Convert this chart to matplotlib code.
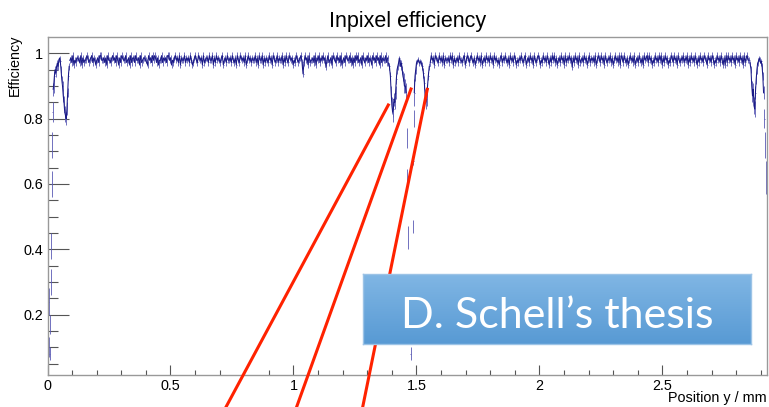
import numpy as np
import matplotlib.pyplot as plt
from matplotlib.lines import Line2D

plt.rcParams['font.family'] = ['Liberation Sans', 'DejaVu Sans']

# left edge of the pixel and the first dip
edge_x = [0.003, 0.005, 0.007, 0.009, 0.011, 0.013, 0.015, 0.017, 0.019, 0.021,
          0.023, 0.025, 0.028, 0.031, 0.034, 0.037, 0.040, 0.043, 0.046, 0.049,
          0.052, 0.055, 0.058, 0.061, 0.064, 0.067, 0.070, 0.073, 0.076, 0.079,
          0.082, 0.085, 0.088]
edge_eff = [0.35, 0.24, 0.10, 0.08, 0.17, 0.30, 0.41, 0.60, 0.72, 0.82,
            0.89, 0.90, 0.93, 0.95, 0.94, 0.96, 0.97, 0.96, 0.98, 0.985,
            0.975, 0.95, 0.92, 0.90, 0.87, 0.85, 0.82, 0.81, 0.80, 0.83,
            0.88, 0.93, 0.96]
edge_err = [0.04, 0.04, 0.03, 0.02, 0.03, 0.04, 0.04, 0.04, 0.04, 0.03,
            0.02, 0.02, 0.015, 0.012, 0.012, 0.01, 0.01, 0.01, 0.008, 0.008,
            0.008, 0.01, 0.012, 0.015, 0.02, 0.02, 0.02, 0.02, 0.02, 0.02,
            0.015, 0.012, 0.01]

# gap between the two pixel halves
mid_x = [1.386, 1.390, 1.394, 1.397, 1.400, 1.403, 1.406, 1.409, 1.412, 1.415,
         1.418, 1.421, 1.424, 1.427, 1.430, 1.433, 1.436, 1.439, 1.442, 1.445,
         1.448, 1.451, 1.455, 1.458, 1.461, 1.463, 1.465, 1.476, 1.485, 1.487,
         1.489, 1.491, 1.494, 1.497, 1.500, 1.504, 1.508, 1.512, 1.516, 1.520,
         1.524, 1.528, 1.532, 1.535, 1.538, 1.541, 1.544, 1.548, 1.552]
mid_eff = [0.97, 0.96, 0.93, 0.88, 0.84, 0.82, 0.83, 0.86, 0.85, 0.88,
           0.92, 0.95, 0.96, 0.97, 0.985, 0.975, 0.96, 0.97, 0.95, 0.93,
           0.92, 0.90, 0.90, 0.88, 0.74, 0.615, 0.435, 0.08, 0.47, 0.67,
           0.80, 0.88, 0.93, 0.95, 0.97, 0.975, 0.98, 0.97, 0.975, 0.97,
           0.96, 0.94, 0.91, 0.87, 0.85, 0.86, 0.89, 0.93, 0.96]
mid_err = [0.008, 0.01, 0.012, 0.02, 0.025, 0.03, 0.025, 0.02, 0.02, 0.02,
           0.015, 0.012, 0.01, 0.01, 0.008, 0.008, 0.01, 0.01, 0.012, 0.015,
           0.02, 0.02, 0.02, 0.03, 0.03, 0.03, 0.035, 0.02, 0.02, 0.012,
           0.025, 0.04, 0.015, 0.012, 0.01, 0.008, 0.008, 0.008, 0.008, 0.01,
           0.012, 0.015, 0.02, 0.02, 0.02, 0.02, 0.015, 0.012, 0.01]

# right edge
right_x = [2.856, 2.860, 2.863, 2.866, 2.869, 2.872, 2.875, 2.878, 2.881, 2.884,
           2.887, 2.890, 2.893, 2.896, 2.899, 2.902, 2.905, 2.908, 2.911, 2.914,
           2.917, 2.921]
right_eff = [0.97, 0.95, 0.90, 0.87, 0.89, 0.84, 0.83, 0.88, 0.92, 0.95,
             0.97, 0.975, 0.985, 0.98, 0.97, 0.975, 0.96, 0.93, 0.88, 0.80,
             0.72, 0.62]
right_err = [0.008, 0.01, 0.015, 0.02, 0.02, 0.025, 0.025, 0.02, 0.015, 0.012,
             0.01, 0.008, 0.008, 0.008, 0.008, 0.008, 0.01, 0.012, 0.02, 0.03,
             0.04, 0.05]

# plateaus, one digit per bin: eff = 0.93 + 0.007 * digit
plateau1_range = (0.091, 1.383)
plateau1 = ("7869576887695867798678968757869977868597768978697586987796785968"
            "8697785967887659786979868577968786997857689786958779687869756897"
            "6987859678869779586978768957869778697685976987869579786877968597"
            "7958687697859867968779586976987857698678961697859677869587968797"
            "8479678598769786957869877968586979678597687968759786978596877968")
plateau2_range = (1.556, 2.852)
plateau2 = ("6978598769786958778697958678697768957986897685797869578697869785"
            "9786758968797685978698576879768957869785976898576978697586979685"
            "7869785968797848697859678697857968786957986978597687968579786959"
            "8697685797869578697685978969785769786979586978576986978597687968"
            "7958697869758697869875978698576978697585969786978597869785968977")
plateau_err = 0.01

xticks = [0, 0.5, 1, 1.5, 2, 2.5]
xtick_labels = ['0', '0.5', '1', '1.5', '2', '2.5']
yticks = [0.2, 0.4, 0.6, 0.8, 1.0]
ytick_labels = ['0.2', '0.4', '0.6', '0.8', '1']

W, H = 769, 407
fig = plt.figure(figsize=(W / 100, H / 100), dpi=100)
ax = fig.add_axes([47.5 / W, 1 - 375 / H, (767 - 47.5) / W, (375 - 37) / H])

def digits(s):
    return 0.93 + 0.007 * np.array([int(c) for c in s])

p1 = digits(plateau1)
p2 = digits(plateau2)
px1 = np.linspace(*plateau1_range, len(p1))
px2 = np.linspace(*plateau2_range, len(p2))

navy = '#1a1a86'
light = '#5a5ab4'
for xs, ys, es, hw in [(edge_x, edge_eff, edge_err, 0.001),
                       (px1, p1, plateau_err, 0.002),
                       (mid_x, mid_eff, mid_err, 0.001),
                       (px2, p2, plateau_err, 0.002),
                       (right_x, right_eff, right_err, 0.001)]:
    ax.errorbar(xs, ys, xerr=hw, yerr=es, fmt='none', ecolor=light,
                elinewidth=0.6, capsize=0)

# dark core line where the bins are dense (sparse low bins stay isolated)
segments = [(edge_x[10:], edge_eff[10:]), (px1, p1),
            (mid_x[:24], mid_eff[:24]), (mid_x[31:], mid_eff[31:]),
            (px2, p2), (right_x[:19], right_eff[:19])]
for xs, ys in segments:
    ax.plot(xs, ys, color=navy, lw=0.75)

ax.set_xlim(0, 2.925)
ax.set_ylim(0.015, 1.05)
ax.set_xticks(xticks, xtick_labels)
ax.set_yticks(yticks, ytick_labels)
ax.set_xticks(np.arange(0, 2.95, 0.1), minor=True)
ax.set_yticks(np.arange(0.05, 1.05, 0.05), minor=True)
ax.tick_params(axis='x', which='major', direction='in', length=7, width=0.8,
               color='#555555', labelsize=10.4, pad=3)
ax.tick_params(axis='x', which='minor', direction='in', length=3.5, width=0.8,
               color='#555555')
ax.tick_params(axis='y', which='major', direction='in', length=15, width=0.8,
               color='#555555', labelsize=10.4, pad=3)
ax.tick_params(axis='y', which='minor', direction='in', length=7.5, width=0.8,
               color='#555555')
for s in ax.spines.values():
    s.set_color('#999999')
    s.set_linewidth(1)

fig.text(408 / W, 1 - 22 / H, 'Inpixel efficiency', ha='center', va='center',
         fontsize=15.5)
fig.text(15 / W, 1 - 35 / H, 'Efficiency', rotation=90, ha='center',
         va='top', fontsize=10.4)
fig.text(767 / W, 1 - 398 / H, 'Position y / mm', ha='right', va='center',
         fontsize=10.4)

# red pointer lines
for (x0, y0), (x1, y1) in [((226, 407), (388.3, 105)),
                           ((296.6, 407), (411, 89)),
                           ((362.7, 407), (427.3, 89.3))]:
    fig.add_artist(Line2D([x0 / W, x1 / W], [1 - y0 / H, 1 - y1 / H],
                          transform=fig.transFigure, color='#ff2200',
                          lw=2.2, zorder=3))

# label box with gradient
bx = fig.add_axes([363 / W, 1 - 344 / H, 388 / W, 70 / H], zorder=5)
grad = np.linspace(0, 1, 64).reshape(-1, 1)
top = np.array([0x80, 0xb6, 0xe4]) / 255
bot = np.array([0x58, 0x9a, 0xd4]) / 255
img = top[None, None, :] * (1 - grad[:, :, None]) + bot[None, None, :] * grad[:, :, None]
bx.imshow(img, aspect='auto', extent=[0, 1, 0, 1])
bx.set_xticks([])
bx.set_yticks([])
for s in bx.spines.values():
    s.set_color('#9cc3e6')
    s.set_linewidth(1)
bx.text(0.5, 16 / 70, 'D. Schell\u2019s thesis', ha='center', va='baseline',
        color='white', fontsize=31, family=['Lato', 'DejaVu Sans'],
        transform=bx.transAxes)

fig.savefig('out.png', dpi=100)
